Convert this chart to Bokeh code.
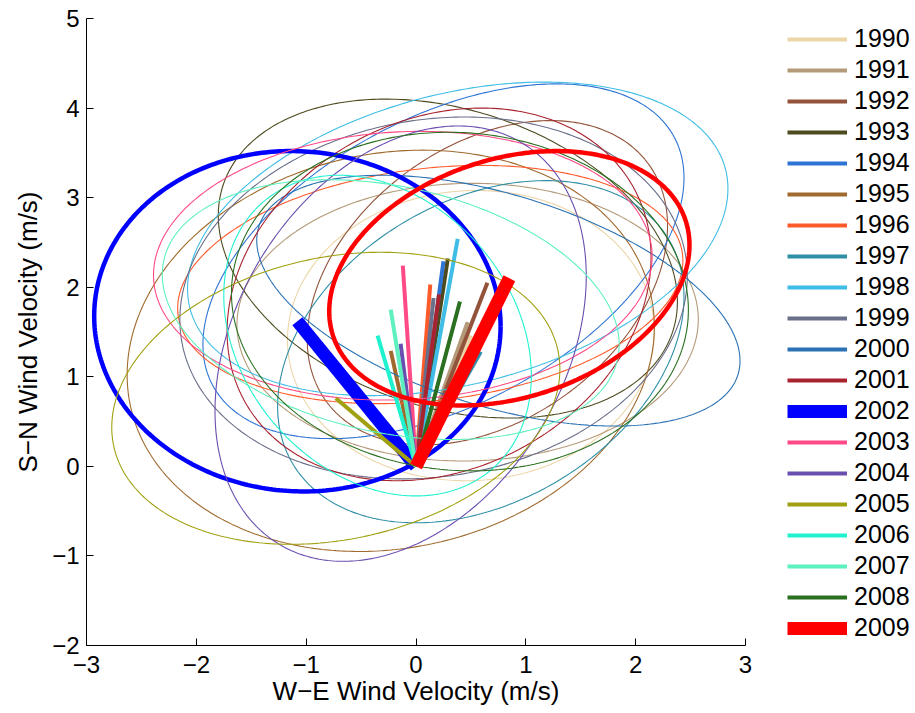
import numpy as np
from bokeh.plotting import figure
from bokeh.models import Range1d, FixedTicker, Legend, LegendItem
from bokeh.embed import file_html
from bokeh.resources import INLINE

# ---- data ----
years = ["1990", "1991", "1992", "1993", "1994", "1995", "1996", "1997", "1998", "1999",
         "2000", "2001", "2002", "2003", "2004", "2005", "2006", "2007", "2008", "2009"]
# mean wind vector (tip of each line, centre of each ellipse), m/s
u_mean = [0.50, 0.47, 0.65, 0.29, 0.25, -0.23, 0.13, 0.59, 0.38, 0.16,
          0.75, 0.21, -1.08, -0.12, -0.14, -0.73, -0.35, -0.23, 0.40, 0.85]
v_mean = [1.46, 1.61, 2.05, 2.32, 2.29, 1.29, 2.03, 1.28, 2.54, 1.88,
          1.85, 1.92, 1.62, 2.24, 1.37, 0.76, 1.46, 1.75, 1.84, 2.10]
# ellipse half extents (W-E, S-N) and W-E/S-N correlation
u_half = [1.67, 2.10, 1.64, 2.09, 2.19, 2.40, 2.30, 1.85, 2.46, 2.31,
          2.20, 1.93, 1.85, 2.27, 1.69, 2.04, 1.40, 2.08, 2.08, 1.64]
v_half = [1.62, 1.55, 1.81, 1.78, 1.98, 2.24, 1.33, 1.91, 1.75, 2.02,
          1.40, 2.08, 1.90, 1.50, 2.43, 1.63, 1.79, 1.45, 1.89, 1.42]
uv_corr = [0.03, 0.02, 0.35, -0.27, 0.47, 0.12, 0.20, 0.32, 0.32, 0.12,
           -0.48, 0.20, -0.03, 0.07, 0.31, 0.20, -0.25, -0.27, -0.05, 0.26]
colors = ["#ecd6a8", "#b49a78", "#93533a", "#4d4a1e", "#2e74d4", "#a06a2e", "#ff5a2a",
          "#2e8fa6", "#3fbde6", "#6a6f8a", "#2a72b4", "#a8232e", "#0000ff", "#ff4a86",
          "#6a4fb0", "#a0a010", "#20f2d0", "#5ff0c0", "#2a7020", "#ff0000"]
highlight = ["2002", "2009"]

x_ticks = [-3, -2, -1, 0, 1, 2, 3]
x_tick_labels = ["\u22123", "\u22122", "\u22121", "0", "1", "2", "3"]
y_ticks = [-2, -1, 0, 1, 2, 3, 4, 5]
y_tick_labels = ["\u22122", "\u22121", "0", "1", "2", "3", "4", "5"]
x_label = "W\u2212E Wind Velocity (m/s)"
y_label = "S\u2212N Wind Velocity (m/s)"

FONT = "Liberation Sans"

p = figure(width=915, height=713, frame_width=659, frame_height=627,
           x_range=Range1d(-3, 3), y_range=Range1d(-2, 5),
           output_backend="svg", toolbar_location=None,
           min_border_left=86, min_border_top=18, min_border_bottom=68,
           min_border_right=170)
p.outline_line_color = None
p.xgrid.visible = False
p.ygrid.visible = False
p.background_fill_color = "white"
p.border_fill_color = "white"

t = np.linspace(0, 2 * np.pi, 361)
items = []
for i, yr in enumerate(years):
    big = yr in highlight
    cx, cy, hx, hy, r = u_mean[i], v_mean[i], u_half[i], v_half[i], uv_corr[i]
    ex = cx + hx * np.cos(t)
    ey = cy + hy * (r * np.cos(t) + np.sqrt(1 - r * r) * np.sin(t))
    p.line(ex, ey, line_color=colors[i], line_width=4.5 if big else 1.1)
    vr = p.line([0, cx], [0, cy], line_color=colors[i],
                line_width=13 if big else 4, line_cap="butt")
    items.append(LegendItem(label=yr, renderers=[vr]))

for ax, ticks, labels, lab in ((p.xaxis, x_ticks, x_tick_labels, x_label),
                               (p.yaxis, y_ticks, y_tick_labels, y_label)):
    ax.ticker = FixedTicker(ticks=ticks)
    ax.major_label_overrides = {k: v for k, v in zip(ticks, labels)}
    ax.major_tick_in = 7
    ax.major_tick_out = 0
    ax.minor_tick_line_color = None
    ax.axis_line_color = "black"
    ax.major_tick_line_color = "black"
    ax.major_label_text_font = FONT
    ax.major_label_text_font_size = "24px"
    ax.major_label_text_color = "black"
    ax.axis_label = lab
    ax.axis_label_text_font = FONT
    ax.axis_label_text_font_size = "26px"
    ax.axis_label_text_font_style = "normal"
    ax.axis_label_text_color = "black"

p.xaxis.major_label_standoff = 10
p.xaxis.axis_label_standoff = 0
p.yaxis.major_label_standoff = 7
p.yaxis.axis_label_standoff = 6

legend = Legend(items=items, location=(42, 3), padding=0, margin=0,
                spacing=2, glyph_width=60, glyph_height=24, label_height=24,
                label_standoff=7, border_line_color=None,
                background_fill_alpha=0, label_text_font=FONT,
                label_text_font_size="25px", label_text_color="black",
                label_text_line_height=1.0)
p.add_layout(legend, "right")

open("out.html", "w").write(file_html(p, INLINE))
